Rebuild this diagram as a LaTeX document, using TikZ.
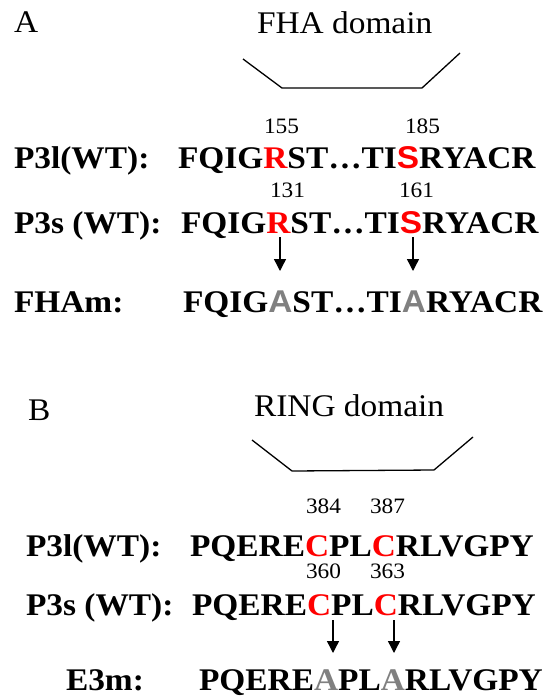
\documentclass[tikz,border=0pt]{standalone}
\usepackage{fontspec}
\setmainfont{Liberation Serif}[FakeStretch=1.06]
\newfontfamily\sansface{Liberation Sans}[FakeStretch=1.06]
\usetikzlibrary{arrows.meta}
\definecolor{mutgray}{HTML}{808080}
\definecolor{hitred}{HTML}{FF0000}
\tikzset{
  base/.style={inner sep=0pt, outer sep=0pt, anchor=base west},
  heading/.style={base, font=\fontsize{31.5}{36}\selectfont},
  rowlabel/.style={base, font=\bfseries\fontsize{31.5}{36}\selectfont},
  seqtext/.style={base, font=\bfseries\fontsize{31.5}{36}\selectfont},
  seqsans/.style={base, font=\sansface\bfseries\fontsize{31.5}{36}\selectfont},
  num/.style={base, font=\fontsize{22}{26}\selectfont},
  hit/.style={text=hitred},
  mut/.style={text=mutgray},
  bracket/.style={line width=1.3pt},
  arr/.style={line width=1.4pt, -{Triangle[length=12pt,width=12pt]}}
}
\begin{document}
\begin{tikzpicture}[x=1pt, y=-1pt]
\useasboundingbox (0,0) rectangle (547,696);

% ---------------- Panel A: FHA domain ----------------
\node[heading] (panA) at (14,32) {A};
\node[heading] (fha) at (257,33) {FHA domain};
\coordinate (fb1) at (243,59);
\coordinate (fb2) at (282,88);
\coordinate (fb3) at (422,88);
\coordinate (fb4) at (460,53);
\draw[bracket] (fb1) -- (fb2) -- (fb3) -- (fb4);

\node[num] (n155) at (264,133) {155};
\node[num] (n185) at (405,133) {185};

\node[rowlabel] (a1lab) at (14,168) {P3l(WT):};
\node[seqtext] (a1p) at (178,168) {FQIG};
\node[seqtext, hit] (a1r) at (a1p.base east) {R};
\node[seqtext] (a1q) at (a1r.base east) {ST…TI};
\node[seqsans, hit] (a1s) at (a1q.base east) {S};
\node[seqtext] (a1t) at (a1s.base east) {RYACR};

\node[num] (n131) at (270,197) {131};
\node[num] (n161) at (399,197) {161};

\node[rowlabel] (a2lab) at (14,233) {P3s (WT):};
\node[seqtext] (a2p) at (181,233) {FQIG};
\node[seqtext, hit] (a2r) at (a2p.base east) {R};
\node[seqtext] (a2q) at (a2r.base east) {ST…TI};
\node[seqsans, hit] (a2s) at (a2q.base east) {S};
\node[seqtext] (a2t) at (a2s.base east) {RYACR};

\node[rowlabel] (a3lab) at (14,312) {FHAm:};
\node[seqtext] (a3p) at (183,312) {FQIG};
\node[seqsans, mut] (a3a) at (a3p.base east) {A};
\node[seqtext] (a3q) at (a3a.base east) {ST…TI};
\node[seqsans, mut] (a3b) at (a3q.base east) {A};
\node[seqtext] (a3t) at (a3b.base east) {RYACR};

\coordinate (aa1s) at (280,237);
\coordinate (aa1e) at (280,271);
\coordinate (aa2s) at (413,237);
\coordinate (aa2e) at (413,271);
\draw[arr] (aa1s) -- (aa1e);
\draw[arr] (aa2s) -- (aa2e);

% ---------------- Panel B: RING domain ----------------
\node[heading] (panB) at (28,420) {B};
\node[heading] (ring) at (254,416) {RING domain};
\coordinate (rb1) at (252,440);
\coordinate (rb2) at (292,471);
\coordinate (rb3) at (434,470);
\coordinate (rb4) at (473,437);
\draw[bracket] (rb1) -- (rb2) -- (rb3) -- (rb4);

\node[num] (n384) at (306,513) {384};
\node[num] (n387) at (370,513) {387};

\node[rowlabel] (b1lab) at (26,556) {P3l(WT):};
\node[seqtext] (b1p) at (190,556) {PQERE};
\node[seqtext, hit] (b1c) at (b1p.base east) {C};
\node[seqtext] (b1q) at (b1c.base east) {PL};
\node[seqtext, hit] (b1d) at (b1q.base east) {C};
\node[seqtext] (b1t) at (b1d.base east) {RLVGPY};

\node[num] (n360) at (306,578) {360};
\node[num] (n363) at (370,578) {363};

\node[rowlabel] (b2lab) at (26,615) {P3s (WT):};
\node[seqtext] (b2p) at (192,615) {PQERE};
\node[seqtext, hit] (b2c) at (b2p.base east) {C};
\node[seqtext] (b2q) at (b2c.base east) {PL};
\node[seqtext, hit] (b2d) at (b2q.base east) {C};
\node[seqtext] (b2t) at (b2d.base east) {RLVGPY};

\node[rowlabel] (b3lab) at (66,690) {E3m:};
\node[seqtext] (b3p) at (199,690) {PQERE};
\node[seqtext, mut] (b3a) at (b3p.base east) {A};
\node[seqtext] (b3q) at (b3a.base east) {PL};
\node[seqtext, mut] (b3b) at (b3q.base east) {A};
\node[seqtext] (b3t) at (b3b.base east) {RLVGPY};

\coordinate (ba1s) at (333,620);
\coordinate (ba1e) at (333,653);
\coordinate (ba2s) at (394,620);
\coordinate (ba2e) at (394,653);
\draw[arr] (ba1s) -- (ba1e);
\draw[arr] (ba2s) -- (ba2e);
\end{tikzpicture}
\end{document}
